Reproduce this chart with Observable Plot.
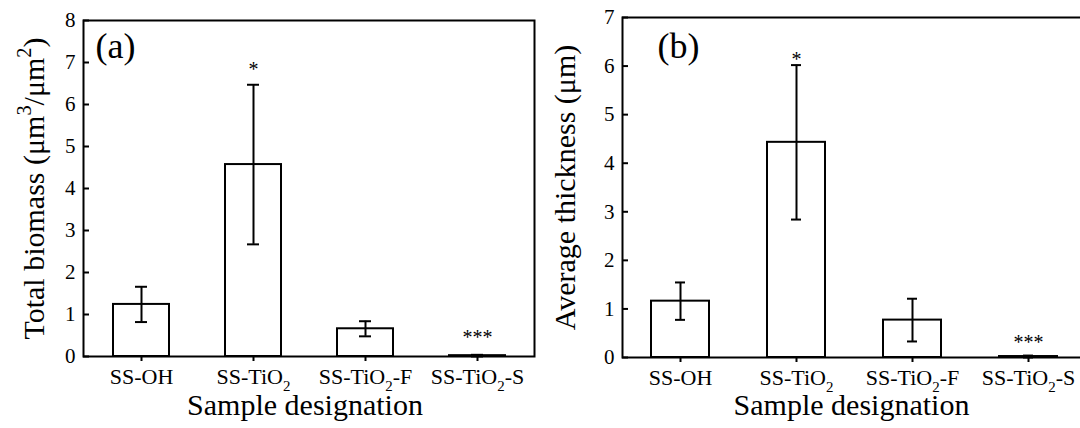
<!DOCTYPE html>
<html><head><meta charset="utf-8">
<script src="https://cdn.jsdelivr.net/npm/d3@7"></script>
<script src="https://cdn.jsdelivr.net/npm/@observablehq/plot@0.6"></script>
<style>
html,body{margin:0;padding:0;background:#fff;overflow:hidden;}
#wrap{position:relative;width:1080px;height:428px;overflow:hidden;background:#fff;}
#a{position:absolute;left:0;top:0;width:540px;}
#b{position:absolute;left:540px;top:0;width:560px;}
#wrap svg{overflow:visible;max-width:none !important;}
#wrap svg, #wrap svg text, #wrap svg tspan{font-family:"Liberation Serif","Times New Roman",serif !important;}
</style></head><body><div id="wrap"><div id="a"></div><div id="b"></div></div>
<script>
const categories = ["SS-OH", "SS-TiO2", "SS-TiO2-F", "SS-TiO2-S"];
const tickLabels = ["SS-OH", "SS-TiO_{2}", "SS-TiO_{2}-F", "SS-TiO_{2}-S"];
const biomassMean = [1.24, 4.57, 0.66, 0.02];
const biomassErr = [0.42, 1.90, 0.18, 0.02];
const thicknessMean = [1.16, 4.43, 0.77, 0.02];
const thicknessErr = [0.385, 1.59, 0.44, 0.02];
const significance = ["", "*", "", "***"];
const yTicksA = [0, 1, 2, 3, 4, 5, 6, 7, 8];
const yTicksB = [0, 1, 2, 3, 4, 5, 6, 7];
const xTitle = "Sample designation";
const yTitleA = "Total biomass (\u03bcm^{3}/\u03bcm^{2})";
const yTitleB = "Average thickness (\u03bcm)";

const FONT = "'Liberation Serif', 'Times New Roman', serif";

function panel(o) {
  const data = categories.map((c, i) => ({
    cat: c, mean: o.means[i], lo: Math.max(0, o.means[i] - o.errs[i]), hi: o.means[i] + o.errs[i], sig: significance[i]
  }));
  const fmt = new Map(categories.map((c, i) => [c, tickLabels[i]]));
  return Plot.plot({
    width: o.width, height: 428,
    marginLeft: o.ml, marginRight: o.mr, marginTop: o.mt, marginBottom: o.mb,
    style: {fontFamily: FONT, background: "white", color: "black"},
    x: {domain: categories, paddingInner: 0.5, paddingOuter: 0.25, label: null},
    y: {domain: [0, o.yMax], label: null},
    marks: [
      Plot.barY(data, {x: "cat", y: "mean", fill: "white", stroke: "black", strokeWidth: 2}),
      Plot.ruleX(data, {x: "cat", y1: "lo", y2: "hi", stroke: "black", strokeWidth: 2}),
      Plot.tickY(data, {x: "cat", y: "hi", stroke: "black", strokeWidth: 2, insetLeft: o.cap, insetRight: o.cap}),
      Plot.tickY(data, {x: "cat", y: "lo", stroke: "black", strokeWidth: 2, insetLeft: o.cap, insetRight: o.cap}),
      Plot.text(data.filter(d => d.sig === "*"), {x: "cat", y: "hi", text: "sig", lineAnchor: "bottom", dy: o.dy1, fontSize: 20}),
      Plot.text(data.filter(d => d.sig === "***"), {x: "cat", y: "hi", text: "sig", lineAnchor: "bottom", dy: o.dy3, fontSize: 20}),
      Plot.axisX({tickFormat: d => fmt.get(d), fontSize: 22, tickSize: 5, tickPadding: 7, strokeWidth: 2}),
      Plot.axisY(o.yTicks, {tickSize: -6, tickPadding: 14, fontSize: 21, strokeWidth: 2}),
      Plot.frame({stroke: "black", strokeWidth: 2}),
      Plot.text([o.yTitle], {text: d => d, frameAnchor: "left", rotate: -90, textAnchor: "middle", lineAnchor: "bottom", dx: o.ydx, fontSize: 30}),
      Plot.text([xTitle], {text: d => d, frameAnchor: "bottom", lineAnchor: "bottom", dy: o.xdy, dx: o.xdx, fontSize: 30}),
      Plot.text([o.tag], {text: d => d, frameAnchor: "top-left", textAnchor: "start", lineAnchor: "bottom", dx: o.tdx, dy: o.tdy, fontSize: 36})
    ]
  });
}

function richify(el) {
  const s = el.textContent;
  if (!/[_^]\{/.test(s)) return;
  const fs = parseFloat(getComputedStyle(el).fontSize) || 20;
  el.textContent = "";
  const re = /([_^])\{([^}]*)\}/g;
  let last = 0, m, shift = 0;
  const add = (txt, kind) => {
    const t = document.createElementNS("http://www.w3.org/2000/svg", "tspan");
    let target = 0;
    if (kind === "_") { target = 0.33 * fs; t.setAttribute("font-size", (0.68 * fs).toFixed(2)); }
    else if (kind === "^") { target = -0.42 * fs; t.setAttribute("font-size", (0.68 * fs).toFixed(2)); }
    const dy = target - shift;
    if (dy !== 0) t.setAttribute("dy", dy.toFixed(2));
    shift = target;
    t.textContent = txt;
    el.appendChild(t);
  };
  while ((m = re.exec(s))) {
    if (m.index > last) add(s.slice(last, m.index), null);
    add(m[2], m[1]);
    last = re.lastIndex;
  }
  if (last < s.length) add(s.slice(last), null);
}

const A = panel({means: biomassMean, errs: biomassErr, yMax: 8, yTicks: yTicksA, yTitle: yTitleA, tag: "(a)",
  width: 540, ml: 83, mr: 6, mt: 20, mb: 72, cap: 22, dy1: -9, dy3: -11, ydx: -40, xdy: 58, xdx: -4, tdx: 12, tdy: 37});
const B = panel({means: thicknessMean, errs: thicknessErr, yMax: 7, yTicks: yTicksB, yTitle: yTitleB, tag: "(b)",
  width: 560, ml: 82, mr: 14, mt: 17, mb: 71, cap: 24, dy1: 1, dy3: -7, ydx: -48, xdy: 57, xdx: -3, tdx: 35, tdy: 40});
document.getElementById("a").appendChild(A);
document.getElementById("b").appendChild(B);
for (const svg of [A, B]) d3.select(svg).selectAll("text").each(function() { richify(this); });
</script></body></html>
